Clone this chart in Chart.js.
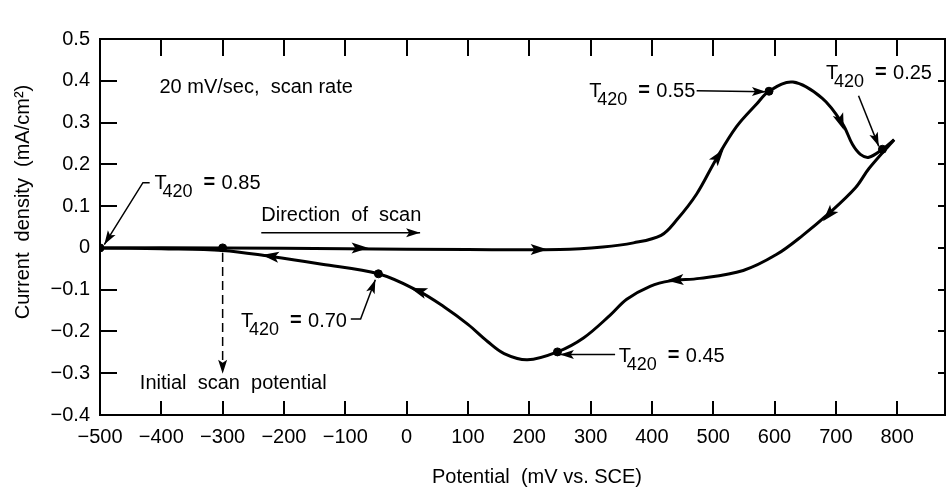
<!DOCTYPE html>
<html>
<head>
<meta charset="utf-8">
<title>Cyclic voltammogram</title>
<script src="https://cdn.jsdelivr.net/npm/chart.js@4.4.1/dist/chart.umd.min.js"></script>
<style>
  html, body { margin: 0; padding: 0; background: #fff; }
</style>
</head>
<body>
<canvas id="cvChart" width="950" height="489"></canvas>
<script>
// forward scan (upper branch, left to right)
var fwdPotential = [-500, -300, -100, 100, 250, 320, 370, 415, 440, 473, 505, 538, 570, 591, 630, 678, 711, 727, 740, 754, 776, 795];
var fwdCurrent   = [0, 0, -0.002, -0.004, -0.004, 0.002, 0.012, 0.03, 0.066, 0.129, 0.213, 0.29, 0.343, 0.375, 0.397, 0.358, 0.297, 0.248, 0.224, 0.217, 0.236, 0.259];

// reverse scan (lower branch, right to left)
var revPotential = [795, 754, 732, 689, 646, 603, 549, 478, 430, 397, 359, 332, 289, 246, 197, 159, 132, 100, 62, 19, -46, -138, -224, -300, -400, -500];
var revCurrent   = [0.259, 0.19, 0.144, 0.083, 0.03, -0.016, -0.054, -0.073, -0.079, -0.092, -0.123, -0.161, -0.215, -0.249, -0.268, -0.253, -0.224, -0.183, -0.142, -0.103, -0.062, -0.039, -0.02, -0.006, -0.002, 0];

// marked points (T420 values)
var markPotential = [-500, -300, -46, 246, 591, 776];
var markCurrent   = [0, 0, -0.062, -0.249, 0.375, 0.236];

// tick labels
var potentialTicks = [-500, -400, -300, -200, -100, 0, 100, 200, 300, 400, 500, 600, 700, 800];
var currentTicks = [-0.4, -0.3, -0.2, -0.1, 0, 0.1, 0.2, 0.3, 0.4, 0.5];

var FONT = "'Liberation Sans', Arial, Helvetica, sans-serif";

function toXY(xs, ys) {
  return xs.map(function (x, i) { return { x: x, y: ys[i] }; });
}

function setXTicks(s) { s.ticks = potentialTicks.map(function (v) { return { value: v }; }); }
function setYTicks(s) { s.ticks = currentTicks.map(function (v) { return { value: v }; }); }

function arrowHead(g, tx, ty, fx, fy, len, half) {
  var dx = tx - fx, dy = ty - fy;
  var d = Math.sqrt(dx * dx + dy * dy) || 1;
  var ux = dx / d, uy = dy / d;
  g.beginPath();
  g.moveTo(tx, ty);
  g.lineTo(tx - ux * len - uy * half, ty - uy * len + ux * half);
  g.lineTo(tx - ux * len * 0.78, ty - uy * len * 0.78);
  g.lineTo(tx - ux * len + uy * half, ty - uy * len - ux * half);
  g.closePath();
  g.fill();
}

function drawT420(g, x, y, val) {
  g.textAlign = 'left';
  g.textBaseline = 'alphabetic';
  g.font = '20px ' + FONT;
  g.fillText('T', x, y);
  g.font = '18px ' + FONT;
  g.fillText('420', x + 8, y + 8);
  g.font = 'bold 20px ' + FONT;
  g.fillText('=', x + 49, y - 1);
  g.font = '20px ' + FONT;
  g.fillText(val, x + 67, y);
}

var cvAnnotations = {
  id: 'cvAnnotations',
  afterDraw: function (chart) {
    var g = chart.ctx, xs = chart.scales.x, ys = chart.scales.y;
    var px = function (v) { return xs.getPixelForValue(v); };
    var py = function (v) { return ys.getPixelForValue(v); };
    g.save();
    g.strokeStyle = '#000';
    g.fillStyle = '#000';

    // axis titles
    g.textBaseline = 'middle';
    g.textAlign = 'center';
    g.font = '20px ' + FONT;
    g.fillText('Potential  (mV vs. SCE)', 537, 477);
    g.save();
    g.translate(23, 202);
    g.rotate(-Math.PI / 2);
    g.fillText('Current  density  (mA/cm\u00B2)', 0, 0);
    g.restore();

    // arrowheads along the scan
    var scanArrows = [
      [-62, 0, -120, 0],
      [230, -0.004, 170, -0.004],
      [517, 0.236, 505, 0.213],
      [713, 0.282, 706, 0.31],
      [679, 0.064, 700, 0.099],
      [424, -0.078, 450, -0.076],
      [6, -0.096, 30, -0.108],
      [-236, -0.017, -200, -0.024]
    ];
    scanArrows.forEach(function (a) {
      arrowHead(g, px(a[0]), py(a[1]), px(a[2]), py(a[3]), 17, 5.5);
    });

    g.lineWidth = 1.5;
    function leader(pts) {
      g.beginPath();
      g.moveTo(px(pts[0][0]), py(pts[0][1]));
      for (var i = 1; i < pts.length; i++) g.lineTo(px(pts[i][0]), py(pts[i][1]));
      g.stroke();
      var n = pts.length;
      arrowHead(g, px(pts[n - 1][0]), py(pts[n - 1][1]), px(pts[n - 2][0]), py(pts[n - 2][1]), 14, 4.5);
    }

    // text notes
    g.textAlign = 'left';
    g.textBaseline = 'alphabetic';
    g.font = '20px ' + FONT;
    g.fillText('20 mV/sec,  scan rate', px(-403), py(0.371));
    g.fillText('Direction  of  scan', px(-237), py(0.064));
    g.fillText('Initial  scan  potential', px(-435), py(-0.338));
    leader([[-237, 0.036], [22, 0.036]]);

    // T420 labels with leaders
    drawT420(g, px(-411), py(0.140), '0.85');
    leader([[-419, 0.156], [-430, 0.156], [-493, 0.008]]);

    drawT420(g, px(298), py(0.362), '0.55');
    leader([[473, 0.376], [586, 0.374]]);

    drawT420(g, px(684), py(0.404), '0.25');
    leader([[737, 0.364], [770, 0.243]]);

    drawT420(g, px(-270), py(-0.189), '0.70');
    leader([[-91, -0.170], [-75, -0.170], [-51, -0.076]]);

    drawT420(g, px(346), py(-0.273), '0.45');
    leader([[340, -0.255], [250, -0.255]]);

    // dashed drop from initial scan potential
    g.setLineDash([9, 5]);
    g.beginPath();
    g.moveTo(px(-300), py(-0.012));
    g.lineTo(px(-300), py(-0.285));
    g.stroke();
    g.setLineDash([]);
    arrowHead(g, px(-300), py(-0.301), px(-300), py(-0.2), 14, 4.5);

    g.restore();
  }
};

// inward tick marks: negative tick lengths, never drawn on the chart area
function innerGrid(len) {
  return { display: true, drawOnChartArea: false, drawTicks: true, tickLength: -len, color: '#000', lineWidth: 2 };
}

var cvChart = new Chart(document.getElementById('cvChart'), {
  type: 'scatter',
  data: {
    datasets: [{
      label: 'forward',
      data: toXY(fwdPotential, fwdCurrent),
      showLine: true,
      borderColor: '#000',
      borderWidth: 3,
      pointRadius: 0,
      tension: 0.35
    }, {
      label: 'reverse',
      data: toXY(revPotential, revCurrent),
      showLine: true,
      borderColor: '#000',
      borderWidth: 3,
      pointRadius: 0,
      tension: 0.35
    }, {
      label: 'T420',
      data: toXY(markPotential, markCurrent),
      showLine: false,
      pointRadius: 4,
      pointBackgroundColor: '#000',
      pointBorderColor: '#000'
    }]
  },
  options: {
    responsive: false,
    animation: false,
    events: [],
    layout: { padding: { top: 8, right: 0, left: 0, bottom: 0 } },
    plugins: {
      legend: { display: false },
      tooltip: { enabled: false }
    },
    scales: {
      x: {
        type: 'linear',
        position: 'bottom',
        min: -500,
        max: 878,
        afterBuildTicks: setXTicks,
        afterFit: function (s) { s.height = 74; },
        grid: innerGrid(14),
        border: { display: true, color: '#000', width: 2 },
        ticks: {
          color: '#000',
          font: { family: FONT, size: 20 },
          padding: 24,
          maxRotation: 0,
          autoSkip: false,
          callback: function (v) { return String(v).replace('-', '\u2212'); }
        }
      },
      xTop: {
        type: 'linear',
        position: 'top',
        min: -500,
        max: 878,
        afterBuildTicks: setXTicks,
        afterFit: function (s) { s.height = 0; },
        grid: innerGrid(17),
        border: { display: true, color: '#000', width: 2 },
        ticks: { display: false }
      },
      y: {
        type: 'linear',
        position: 'left',
        min: -0.4,
        max: 0.5,
        afterBuildTicks: setYTicks,
        afterFit: function (s) { s.width = 100; },
        grid: innerGrid(17),
        border: { display: true, color: '#000', width: 2 },
        ticks: {
          color: '#000',
          font: { family: FONT, size: 20 },
          padding: 27,
          autoSkip: false,
          callback: function (v) { return v === 0 ? '0' : v.toFixed(1).replace('-', '\u2212'); }
        }
      },
      yRight: {
        type: 'linear',
        position: 'right',
        min: -0.4,
        max: 0.5,
        afterBuildTicks: setYTicks,
        afterFit: function (s) { s.width = 0; },
        grid: innerGrid(7),
        border: { display: true, color: '#000', width: 2 },
        ticks: { display: false }
      }
    }
  },
  plugins: [cvAnnotations]
});
</script>
</body>
</html>
